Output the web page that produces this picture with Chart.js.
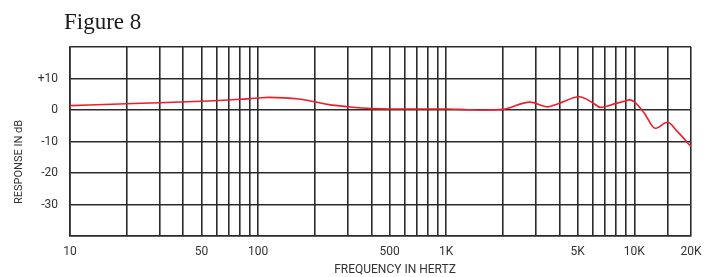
<!DOCTYPE html>
<html>
<head>
<meta charset="utf-8">
<script src="https://cdn.jsdelivr.net/npm/chart.js@4.4.1/dist/chart.umd.min.js"></script>
<style>
  html, body { margin: 0; padding: 0; background: #fff; }
  #wrap { width: 711px; height: 277px; position: relative; }
</style>
</head>
<body>
<div id="wrap"><canvas id="fig8"></canvas></div>
<script>
  // response curve (Hz, dB)
  const freqs = [10, 20, 30, 50, 80, 100, 114, 165, 200, 238, 300, 400, 500, 1000, 1300, 1600, 2000,
    2780, 3470, 3900, 5100, 6000, 6600, 8000, 9000, 9400, 10000, 11300, 12900, 15000, 16900, 20000];
  const response = [1.4, 2.0, 2.3, 2.8, 3.4, 3.8, 4.0, 3.5, 2.6, 1.7, 1.05, 0.45, 0.3, 0.3, 0.1, 0.0, 0.2,
    2.5, 1.0, 1.9, 4.2, 2.3, 0.85, 2.1, 2.9, 3.2, 2.6, -1.0, -5.8, -3.9, -6.8, -11.6];

  const gridFreqs = [10, 20, 30, 40, 50, 60, 70, 80, 90,
    100, 200, 300, 400, 500, 600, 700, 800, 900,
    1000, 2000, 3000, 4000, 5000, 6000, 7000, 8000, 9000,
    10000, 15000, 20000];
  const freqLabels = { 10: '10', 50: '50', 100: '100', 500: '500', 1000: '1K', 5000: '5K', 10000: '10K', 20000: '20K' };
  const dbLabels = { 10: '+10', 0: '0', '-10': '-10', '-20': '-20', '-30': '-30' };

  const gridColor = '#2b2b2b';
  const tickFont = { family: 'Roboto', size: 12 };

  const extraText = {
    id: 'extraText',
    afterDraw(chart) {
      const ctx = chart.ctx;
      ctx.save();
      ctx.fillStyle = '#1a1a1a';
      ctx.font = '23px "Liberation Serif"';
      ctx.textAlign = 'left';
      ctx.textBaseline = 'alphabetic';
      ctx.fillText('Figure 8', 64, 29);

      ctx.fillStyle = '#333';
      ctx.font = '12px Roboto';
      ctx.textAlign = 'center';
      ctx.textBaseline = 'middle';
      ctx.fillText('FREQUENCY IN HERTZ', 395, 270);

      ctx.translate(19, 162);
      ctx.rotate(-Math.PI / 2);
      ctx.font = '11px Roboto';
      ctx.fillText('RESPONSE IN dB', 0, 0);
      ctx.restore();
    }
  };

  new Chart(document.getElementById('fig8'), {
    type: 'line',
    data: {
      datasets: [{
        data: freqs.map((f, i) => ({ x: f, y: response[i] })),
        borderColor: '#ee1d2b',
        borderWidth: 1.6,
        pointRadius: 0,
        cubicInterpolationMode: 'monotone',
        fill: false
      }]
    },
    options: {
      responsive: true,
      maintainAspectRatio: false,
      animation: false,
      layout: { padding: { top: 47, right: 20, left: 0, bottom: 0 } },
      plugins: { legend: { display: false }, tooltip: { enabled: false } },
      scales: {
        x: {
          type: 'logarithmic',
          min: 10,
          max: 20000,
          afterBuildTicks: (scale) => { scale.ticks = gridFreqs.map((v) => ({ value: v })); },
          afterFit: (scale) => { scale.height = 41; },
          grid: { color: gridColor, lineWidth: 1.6, drawTicks: false },
          border: { color: gridColor, width: 1.6 },
          ticks: {
            autoSkip: false,
            maxRotation: 0,
            padding: 9,
            color: '#333',
            font: tickFont,
            callback: (v) => freqLabels[v] || ''
          }
        },
        y: {
          min: -40,
          max: 20,
          afterFit: (scale) => { scale.width = 70; },
          grid: { color: gridColor, lineWidth: 1.6, drawTicks: false },
          border: { color: gridColor, width: 1.6 },
          ticks: {
            stepSize: 10,
            padding: 12,
            color: '#333',
            font: tickFont,
            callback: (v) => dbLabels[v] || ''
          }
        }
      }
    },
    plugins: [extraText]
  });
</script>
</body>
</html>
